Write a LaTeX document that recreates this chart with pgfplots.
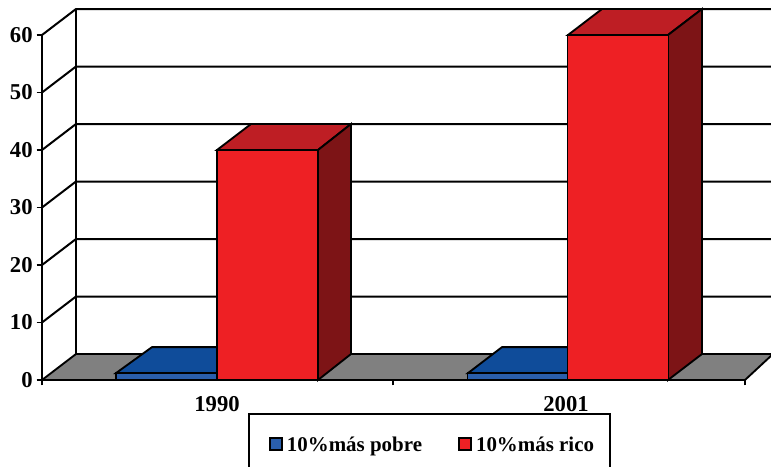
\documentclass[border=0pt]{standalone}
\usepackage{pgfplots}
\pgfplotsset{compat=1.18}
\usepackage{fontspec}
\setmainfont{Liberation Serif}
\definecolor{rfront}{HTML}{EE2024}
\definecolor{rtop}{HTML}{BE1E24}
\definecolor{rside}{HTML}{7D1416}
\definecolor{bfront}{HTML}{2A5EAB}
\definecolor{btop}{HTML}{0F4C9A}
\definecolor{floorg}{HTML}{808080}
\begin{document}
\begin{tikzpicture}[x=0.75pt,y=0.75pt]
\useasboundingbox (0,0) rectangle (771,467);
\begin{axis}[
  at={(42pt*0.75,87pt*0.75)}, anchor=south west,
  x=0.75pt, y=4.3125pt,
  xmin=42, xmax=745, ymin=0, ymax=60,
  clip=false,
  axis x line=bottom, axis y line=left,
  axis line style={-, line width=1.5pt, black},
  xtick={217,566}, xticklabels={1990,2001},
  extra x ticks={42,393,745}, extra x tick labels={},
  x tick style={draw=none},
  extra x tick style={x tick style={draw=black, line width=1.2pt}},
  ytick={0,10,20,30,40,50,60},
  tick align=outside,
  major tick length=4pt,
  y tick style={line width=1.2pt,black},
  tick label style={font=\fontsize{17}{20}\selectfont\bfseries, black},
  xticklabel style={yshift=-5pt},
  yticklabel style={xshift=0.5pt},
  /pgf/number format/assume math mode=true,
  legend columns=2,
  legend cell align=left,
  legend style={
    at={(axis cs:429.5,-5.74)}, anchor=north,
    draw=black, line width=1.5pt, fill=white,
    font=\fontsize{15.7}{18}\selectfont\bfseries,
    inner xsep=10pt, inner ysep=15pt,
    /tikz/every even column/.style={column sep=20pt},
  },
]
% floor
\addplot[forget plot, fill=floorg, draw=black, line width=1.4pt] coordinates {(42,0) (76,4.52) (771,4.52) (771,4.2) (745,0)} -- cycle;
% back wall and side wall
\addplot[forget plot, black, line width=1.5pt] coordinates {(76,4.52) (76,64.52)};
\addplot[forget plot, black, line width=1.5pt] coordinates {(42,10) (76,14.52) (771,14.52)};
\addplot[forget plot, black, line width=1.5pt] coordinates {(42,20) (76,24.52) (771,24.52)};
\addplot[forget plot, black, line width=1.5pt] coordinates {(42,30) (76,34.52) (771,34.52)};
\addplot[forget plot, black, line width=1.5pt] coordinates {(42,40) (76,44.52) (771,44.52)};
\addplot[forget plot, black, line width=1.5pt] coordinates {(42,50) (76,54.52) (771,54.52)};
\addplot[forget plot, black, line width=1.5pt] coordinates {(42,60) (76,64.52) (771,64.52)};
% poor 1990
\addplot[forget plot, fill=btop, draw=black, line width=1.4pt] coordinates {(116,1.2) (152,5.72) (251,5.72) (217,1.2)} -- cycle;
% poor 2001
\addplot[forget plot, fill=btop, draw=black, line width=1.4pt] coordinates {(468,1.2) (502,5.72) (602,5.72) (568,1.2)} -- cycle;
% poor fronts
\addplot[ybar, bar width=101, bar shift=0pt, fill=bfront, draw=black, line width=1.4pt, forget plot] coordinates {(166.5,1.2) (518,1.2)};
% rich 1990
\addplot[forget plot, fill=rtop, draw=black, line width=1.4pt] coordinates {(217,40) (251,44.52) (351,44.52) (318,40)} -- cycle;
\addplot[forget plot, fill=rside, draw=black, line width=1.4pt] coordinates {(318,0) (351,4.52) (351,44.52) (318,40)} -- cycle;
% rich 2001
\addplot[forget plot, fill=rtop, draw=black, line width=1.4pt] coordinates {(568,60) (602,64.52) (702,64.52) (668,60)} -- cycle;
\addplot[forget plot, fill=rside, draw=black, line width=1.4pt] coordinates {(668,0) (702,4.52) (702,64.52) (668,60)} -- cycle;
% rich fronts
\addplot[ybar, bar width=101, bar shift=0pt, fill=rfront, draw=black, line width=1.4pt, forget plot] coordinates {(267.5,40) (618,60)};
% legend
\addlegendimage{legend image code/.code={\path[draw=none,fill=none] (-6pt,0pt) -- (10.5pt,0pt); \draw[fill=bfront,draw=black,line width=1.4pt] (0pt,-4pt) rectangle (9pt,5pt);}}
\addlegendentry{10\%más pobre}
\addlegendimage{legend image code/.code={\path[draw=none,fill=none] (-6pt,0pt) -- (10.5pt,0pt); \draw[fill=rfront,draw=black,line width=1.4pt] (0pt,-4pt) rectangle (9pt,5pt);}}
\addlegendentry{10\%más rico}
\end{axis}
\end{tikzpicture}
\end{document}
